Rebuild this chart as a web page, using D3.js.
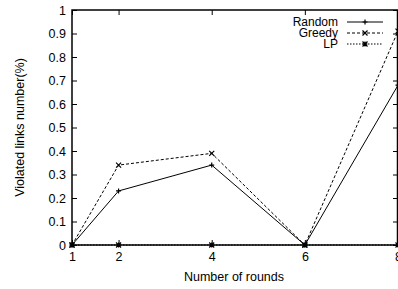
<!DOCTYPE html>
<html lang="en">
<head>
<style>
  body { margin: 0; background: #fff; }
  text { font-family: "Liberation Sans", Arial, sans-serif; }
</style>
<script src="https://d3js.org/d3.v7.min.js"></script>
</head>
<body>
<script>
var width = 398, height = 289;

var rounds = [1, 2, 4, 6, 8];
var randomVals = [0, 0.23, 0.34, 0, 0.68];
var greedyVals = [0, 0.34, 0.39, 0, 0.91];
var lpVals = [0, 0, 0, 0, 0];
var xTicks = [1, 2, 4, 6, 8];
var yTicks = [0, 0.1, 0.2, 0.3, 0.4, 0.5, 0.6, 0.7, 0.8, 0.9, 1];

// plot box (note: "top" is reserved on window, so use plot* names)
var plotL = 72, plotR = 398, plotT = 10, plotB = 245;
var fs = 12.5;

var svg = d3.select("body").append("svg")
    .attr("width", width)
    .attr("height", height);

var xscale = d3.scaleLinear().domain([1, 8]).range([plotL, plotR]);
var yscale = d3.scaleLinear().domain([0, 1]).range([plotB, plotT]);

// axes: ticks point inward, mirrored on top/right
var yAxis = d3.axisLeft(yscale).tickValues(yTicks).tickSizeInner(-5).tickSizeOuter(0).tickPadding(6)
    .tickFormat(function(d) { return d === 0 ? "0" : d === 1 ? "1" : d3.format(".1f")(d); });
var yAxisR = d3.axisRight(yscale).tickValues(yTicks).tickSizeInner(-5).tickSizeOuter(0).tickFormat("");
var xAxis = d3.axisBottom(xscale).tickValues(xTicks).tickSizeInner(-5).tickSizeOuter(0).tickPadding(7)
    .tickFormat(d3.format("d"));
var xAxisT = d3.axisTop(xscale).tickValues(xTicks).tickSizeInner(-5).tickSizeOuter(0).tickFormat("");

function style(g) {
  g.select(".domain").remove();
  g.selectAll("line").attr("stroke", "#000");
  g.selectAll("text").attr("font-size", fs).attr("fill", "#000")
    .style("font-family", "'Liberation Sans', Arial, sans-serif");
}

svg.append("g").attr("transform", "translate(" + plotL + ",0)").call(yAxis).call(style);
svg.append("g").attr("transform", "translate(" + plotR + ",0)").call(yAxisR).call(style);
svg.append("g").attr("transform", "translate(0," + plotB + ")").call(xAxis).call(style);
svg.append("g").attr("transform", "translate(0," + plotT + ")").call(xAxisT).call(style);

// frame
svg.append("rect")
    .attr("x", plotL).attr("y", plotT)
    .attr("width", plotR - plotL - 0.5).attr("height", plotB - plotT)
    .attr("fill", "none").attr("stroke", "#000").attr("stroke-width", 1.5);

// axis titles
svg.append("text")
    .attr("x", 234).attr("y", 281)
    .attr("text-anchor", "middle").attr("font-size", fs)
    .text("Number of rounds");
svg.append("text")
    .attr("transform", "translate(24," + ((plotT + plotB) / 2) + ") rotate(-90)")
    .attr("text-anchor", "middle").attr("font-size", fs)
    .text("Violated links number(%)");

var series = [
  {name: "Random", vals: randomVals, dash: null, marker: "plus"},
  {name: "Greedy", vals: greedyVals, dash: "3,2", marker: "cross"},
  {name: "LP", vals: lpVals, dash: "1.5,1.5", marker: "star"}
];

var line = d3.line()
    .x(function(d) { return xscale(d.x); })
    .y(function(d) { return yscale(d.y); });

function drawMarker(g, kind, cx, cy) {
  var s = 2.5;
  var p = "";
  if (kind === "plus" || kind === "star") p += "M" + (cx - s) + "," + cy + "H" + (cx + s) + "M" + cx + "," + (cy - s) + "V" + (cy + s);
  if (kind === "cross" || kind === "star") p += "M" + (cx - s) + "," + (cy - s) + "L" + (cx + s) + "," + (cy + s) + "M" + (cx - s) + "," + (cy + s) + "L" + (cx + s) + "," + (cy - s);
  g.append("path").attr("d", p).attr("stroke", "#000").attr("stroke-width", 1.2).attr("fill", "none");
}

series.forEach(function(s) {
  var pts = rounds.map(function(r, i) { return {x: r, y: s.vals[i]}; });
  svg.append("path")
      .datum(pts)
      .attr("d", line)
      .attr("fill", "none")
      .attr("stroke", "#000")
      .attr("stroke-width", 1)
      .attr("stroke-dasharray", s.dash);
  var mg = svg.append("g");
  pts.forEach(function(p) { drawMarker(mg, s.marker, xscale(p.x), yscale(p.y)); });
});

// legend
var legend = svg.append("g");
series.forEach(function(s, i) {
  var ly = 22 + i * 11;
  legend.append("text")
      .attr("x", 338).attr("y", ly + 4)
      .attr("text-anchor", "end").attr("font-size", 12)
      .text(s.name);
  legend.append("line")
      .attr("x1", 347).attr("x2", 383).attr("y1", ly).attr("y2", ly)
      .attr("stroke", "#000").attr("stroke-width", 1)
      .attr("stroke-dasharray", s.dash);
  drawMarker(legend, s.marker, 365, ly);
});
</script>
</body>
</html>
